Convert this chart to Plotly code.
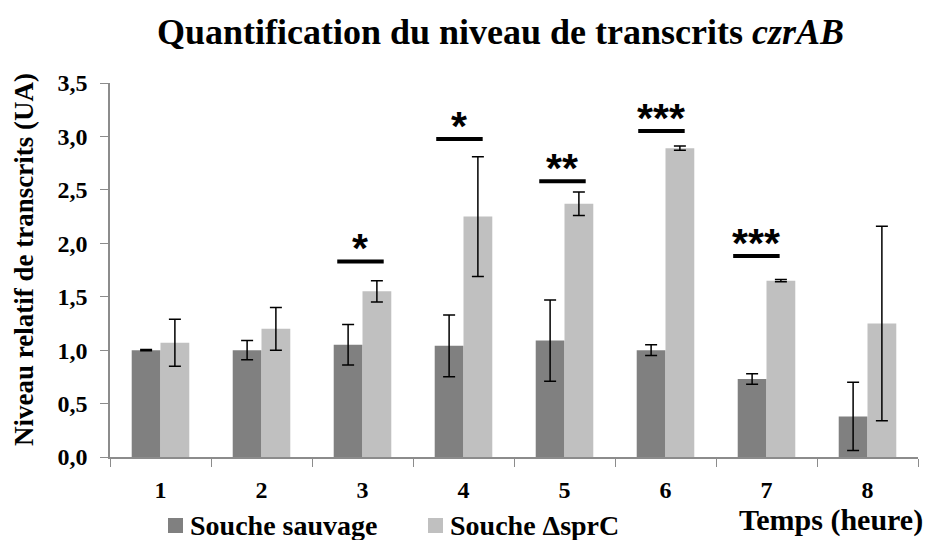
import plotly.graph_objects as go

# Relative czrAB transcript levels over time (arbitrary units)
temps = ["1", "2", "3", "4", "5", "6", "7", "8"]
sauvage = [1.00, 1.00, 1.05, 1.04, 1.09, 1.00, 0.73, 0.38]
sauvage_err = [0.005, 0.09, 0.19, 0.29, 0.38, 0.05, 0.05, 0.32]
mutant = [1.07, 1.20, 1.55, 2.25, 2.37, 2.89, 1.65, 1.25]
mutant_err = [0.22, 0.20, 0.10, 0.56, 0.11, 0.02, 0.01, 0.91]

series_names = ["Souche sauvage", "Souche ΔsprC"]
series_colors = ["#808080", "#c0c0c0"]

# Significance marks: category, label, bar height
sig_temps = ["3", "4", "5", "6", "7"]
sig_labels = ["*", "*", "**", "***", "***"]
sig_levels = [1.83, 2.975, 2.58, 3.05, 1.88]
sig_shift = [-0.02, -0.04, -0.02, -0.04, -0.10]

y_ticks = [0.0, 0.5, 1.0, 1.5, 2.0, 2.5, 3.0, 3.5]

SERIF = "Liberation Serif, Times New Roman, serif"
SANS = "Liberation Sans, Arial, sans-serif"
AXIS_GREY = "#8c8c8c"

W, H = 931, 540
ML, MR, MT, MB = 110, 13, 83, 83
PW, PH = W - ML - MR, H - MT - MB


def px(x):
    """Pixel column -> paper x."""
    return (x - ML) / PW


def py(y):
    """Pixel row -> paper y."""
    return (H - MB - y) / PH


fig = go.Figure()
for name, vals, errs, col in zip(series_names, [sauvage, mutant],
                                 [sauvage_err, mutant_err], series_colors):
    fig.add_trace(go.Bar(
        x=temps, y=vals, name=name, showlegend=False,
        marker=dict(color=col, line=dict(width=0)),
        error_y=dict(type="data", array=errs, color="black", thickness=1.5, width=6),
    ))

shapes = []
annotations = []
for t, lab, lvl, dx in zip(sig_temps, sig_labels, sig_levels, sig_shift):
    i = temps.index(t)
    shapes.append(dict(type="line", xref="x", yref="y",
                       x0=i - 0.23 + dx, x1=i + 0.23 + dx, y0=lvl, y1=lvl,
                       line=dict(color="black", width=4)))
    annotations.append(dict(x=i + dx, y=lvl, xref="x", yref="y", text="<b>%s</b>" % lab,
                            showarrow=False, yanchor="bottom", yshift=-12,
                            font=dict(family=SANS, size=41, color="black")))

# Legend drawn below the axis: square swatch followed by its label
legend_left = [168, 428]
for name, col, x0 in zip(series_names, series_colors, legend_left):
    shapes.append(dict(type="rect", xref="paper", yref="paper",
                       x0=px(x0), x1=px(x0 + 15), y0=py(533), y1=py(518),
                       fillcolor=col, line=dict(width=0)))
    annotations.append(dict(text="<b>%s</b>" % name, xref="paper", yref="paper",
                            x=px(x0 + 20), y=py(525), xanchor="left", yanchor="middle",
                            showarrow=False, font=dict(family=SERIF, size=28, color="black")))

annotations += [
    dict(text="<b>Quantification du niveau de transcrits <i>czrAB</i></b>",
         xref="paper", yref="paper", x=px(500), y=py(32), xanchor="center", yanchor="middle",
         showarrow=False, font=dict(family=SERIF, size=36, color="black")),
    dict(text="<b>Niveau relatif de transcrits (UA)</b>", textangle=-90,
         xref="paper", yref="paper", x=px(24), y=py(260), xanchor="center", yanchor="middle",
         showarrow=False, font=dict(family=SERIF, size=27, color="black")),
    dict(text="<b>Temps (heure)</b>",
         xref="paper", yref="paper", x=px(831), y=py(520), xanchor="center", yanchor="middle",
         showarrow=False, font=dict(family=SERIF, size=30, color="black")),
]

tick_font = dict(family=SERIF, size=24, color="black", weight="bold")

fig.update_layout(
    width=W, height=H,
    margin=dict(l=ML, r=MR, t=MT, b=MB),
    paper_bgcolor="white", plot_bgcolor="white",
    separators=", ",
    barmode="group", bargap=0.43, bargroupgap=0,
    showlegend=False,
    shapes=shapes, annotations=annotations,
    xaxis=dict(type="category", tickson="boundaries", ticks="outside", ticklen=8,
               tickcolor=AXIS_GREY, showline=True, linecolor=AXIS_GREY, linewidth=1.5,
               showgrid=False, ticklabelstandoff=10, tickfont=tick_font),
    yaxis=dict(range=[0, 3.5], tickvals=y_ticks, tickformat=".1f", ticks="outside",
               ticklen=8, tickcolor=AXIS_GREY, showline=True, linecolor=AXIS_GREY,
               linewidth=1.5, showgrid=False, zeroline=False, ticklabelstandoff=8,
               tickfont=tick_font),
)

fig.write_html("out.html")
